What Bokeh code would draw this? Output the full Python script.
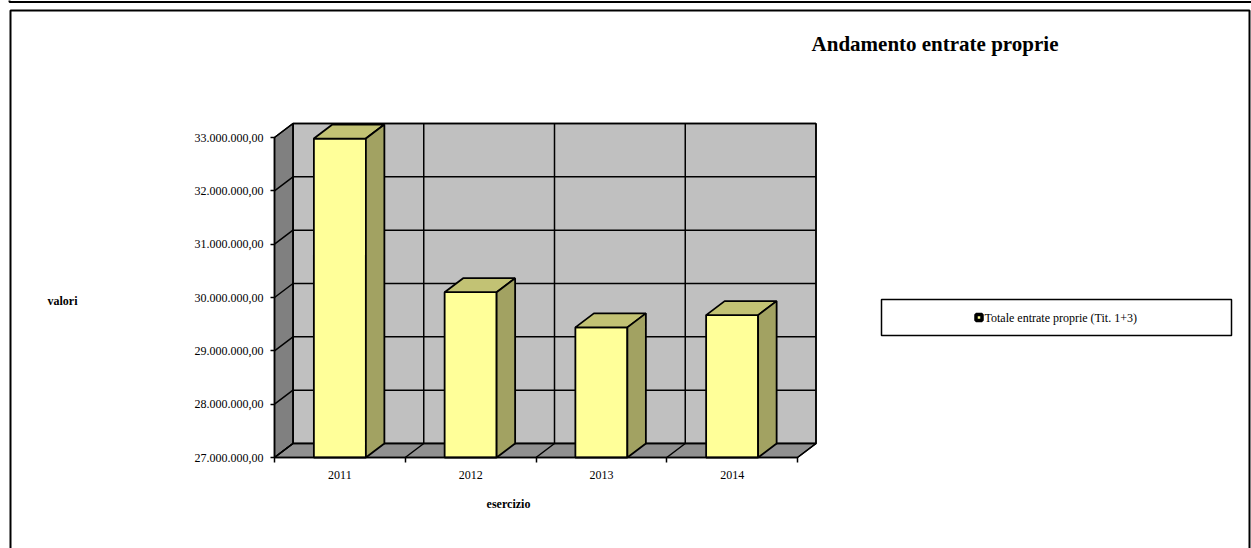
from bokeh.plotting import figure
from bokeh.models import Range1d, FixedTicker
from bokeh.core.properties import value
from bokeh.embed import file_html
from bokeh.resources import INLINE

# ---------------- data ----------------
categories = ["2011", "2012", "2013", "2014"]
values = [32980000, 30100000, 29440000, 29670000]
series_name = "Totale entrate proprie (Tit. 1+3)"
y_ticks = [27000000, 28000000, 29000000, 30000000, 31000000, 32000000, 33000000]
y_tick_labels = ["27.000.000,00", "28.000.000,00", "29.000.000,00", "30.000.000,00",
                 "31.000.000,00", "32.000.000,00", "33.000.000,00"]
title_text = "Andamento entrate proprie"
x_title = "esercizio"
y_title = "valori"

# ---------------- layout ----------------
W, H = 1251, 548
ORIG_X, ORIG_Y = 274, 457            # front axes origin (pixels)
PX_PER_CAT = 130.75                  # pixels per category
PX_PER_VAL = 53.333 / 1e6            # pixels per unit of value
FONT = "Liberation Serif"

def sx(px):
    return (px - ORIG_X) / PX_PER_CAT

def sy(py):
    return y_ticks[0] + (ORIG_Y - py) / PX_PER_VAL

DX = 18.5 / PX_PER_CAT               # 3D depth offset
DY = 14.0 / PX_PER_VAL
BAR_HALF = 26.0 / PX_PER_CAT

p = figure(width=W, height=H, output_backend="svg", toolbar_location=None,
           x_range=Range1d(sx(0), sx(W)), y_range=Range1d(sy(H), sy(0)),
           min_border=0)
p.grid.visible = False
p.outline_line_color = None
p.background_fill_color = "white"
p.border_fill_color = "white"

n = len(categories)
y_lo, y_hi = y_ticks[0], y_ticks[-1]

# page frames
p.multi_line([[sx(9), sx(9), sx(1262)], [sx(10), sx(10), sx(1249), sx(1249)]],
             [[sy(-5), sy(1.5), sy(1.5)], [sy(560), sy(10), sy(10), sy(560)]],
             line_color="black", line_width=2)

# walls
p.patch([DX, n + DX, n + DX, DX], [y_lo + DY, y_lo + DY, y_hi + DY, y_hi + DY],
        fill_color="#C0C0C0", line_color="black", line_width=1.5)
p.patch([0, DX, DX, 0], [y_lo, y_lo + DY, y_hi + DY, y_hi],
        fill_color="#808080", line_color="black", line_width=1.5)
p.patch([0, n, n + DX, DX], [y_lo, y_lo, y_lo + DY, y_lo + DY],
        fill_color="#909090", line_color="black", line_width=1.5)

# gridlines
p.multi_line([[0, DX, n + DX] for v in y_ticks], [[v, v + DY, v + DY] for v in y_ticks],
             line_color="black", line_width=1.5)
p.multi_line([[k, k + DX, k + DX] for k in range(n + 1)],
             [[y_lo, y_lo + DY, y_hi + DY] for k in range(n + 1)],
             line_color="black", line_width=1.5)

# bars
lefts = [i + 0.5 - BAR_HALF for i in range(n)]
rights = [i + 0.5 + BAR_HALF for i in range(n)]
p.quad(left=lefts, right=rights, bottom=y_lo, top=values,
       fill_color="#FFFF99", line_color="black", line_width=1.8)
p.patches([[l, r, r + DX, l + DX] for l, r in zip(lefts, rights)],
          [[v, v, v + DY, v + DY] for v in values],
          fill_color="#C2C274", line_color="black", line_width=1.8)
p.patches([[r, r + DX, r + DX, r] for r in rights],
          [[y_lo, y_lo + DY, v + DY, v] for v in values],
          fill_color="#A2A262", line_color="black", line_width=1.8)

# axes (drawn at the front origin of the 3D box)
yax = p.yaxis[0]
yax.fixed_location = 0
yax.bounds = (y_lo, y_hi)
yax.ticker = FixedTicker(ticks=y_ticks, minor_ticks=[])
yax.major_label_overrides = {t: s for t, s in zip(y_ticks, y_tick_labels)}
yax.major_tick_out = 4
yax.major_tick_in = 0
yax.minor_tick_out = 0
yax.major_label_standoff = 7
yax.axis_line_width = 1.5
yax.major_tick_line_width = 1.5
yax.major_label_text_font = FONT
yax.major_label_text_font_size = "12px"
yax.major_label_text_color = "black"

xax = p.xaxis[0]
xax.fixed_location = y_lo
xax.bounds = (0, n)
centers = [i + 0.5 for i in range(n)]
xax.ticker = FixedTicker(ticks=centers, minor_ticks=list(range(n + 1)))
xax.major_label_overrides = {c: s for c, s in zip(centers, categories)}
xax.major_tick_out = 0
xax.major_tick_in = 0
xax.minor_tick_out = 5
xax.minor_tick_in = 0
xax.minor_tick_line_width = 1.5
xax.minor_tick_line_color = "black"
xax.major_label_standoff = 8
xax.axis_line_width = 1.5
xax.major_label_text_font = FONT
xax.major_label_text_font_size = "12px"
xax.major_label_text_color = "black"

# legend
p.quad(left=[sx(881)], right=[sx(1231)], top=[sy(299)], bottom=[sy(335)],
       fill_color="white", line_color="black", line_width=1.5)
p.scatter([sx(978.5)], [sy(317)], marker="square", size=6, fill_color="#FFFF99",
          line_color="black", line_width=3.5)
p.text(x=[sx(984)], y=[sy(317)], text=[series_name], text_font=value(FONT),
       text_font_size="12px", text_baseline="middle", text_align="left", text_color="black")

# texts
p.text(x=[sx(934.5)], y=[sy(43)], text=[title_text], text_font=value(FONT),
       text_font_size="21px", text_font_style="bold", text_align="center",
       text_baseline="middle", text_color="black")
p.text(x=[sx(62)], y=[sy(300)], text=[y_title], text_font=value(FONT),
       text_font_size="12px", text_font_style="bold", text_align="center",
       text_baseline="middle", text_color="black")
p.text(x=[sx(508)], y=[sy(503)], text=[x_title], text_font=value(FONT),
       text_font_size="12px", text_font_style="bold", text_align="center",
       text_baseline="middle", text_color="black")

open("out.html", "w").write(file_html(p, INLINE))
